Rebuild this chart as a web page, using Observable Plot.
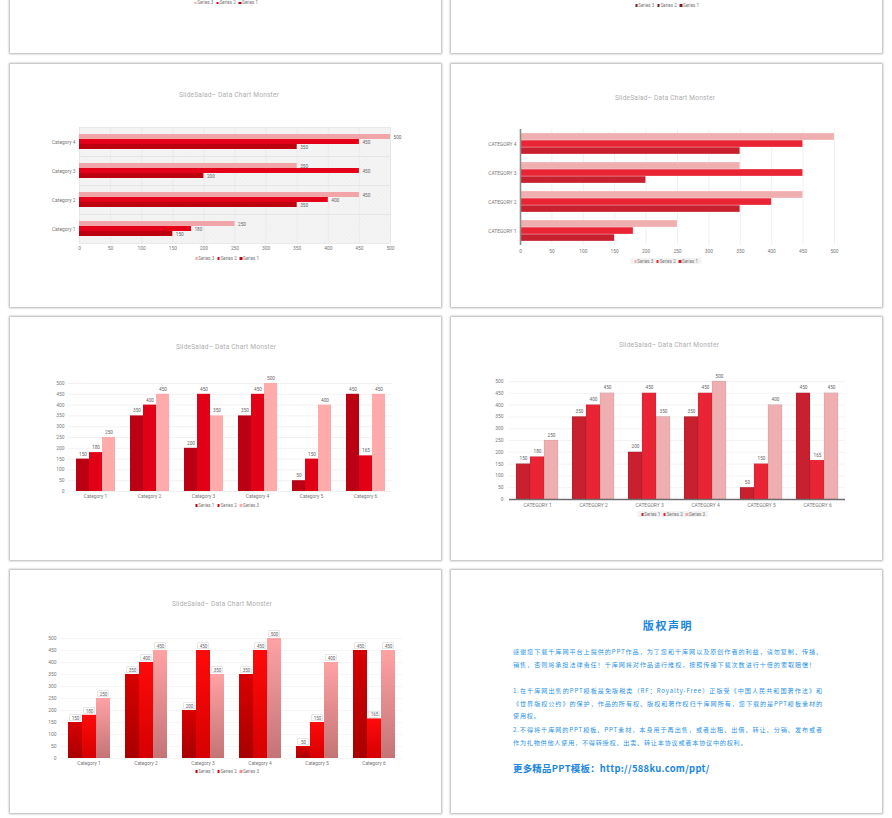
<!DOCTYPE html>
<html><head><meta charset="utf-8">
<script src="https://cdn.jsdelivr.net/npm/d3@7"></script>
<script src="https://cdn.jsdelivr.net/npm/@observablehq/plot@0.6"></script>
<style>
html,body{margin:0;padding:0;background:#fff;}
#page{position:relative;width:892px;height:818px;overflow:hidden;background:#fff;font-family:Roboto,"DejaVu Sans",sans-serif;}
.slide{position:absolute;background:#fff;box-shadow:0 0 2px 1px rgba(0,0,0,0.3);}
.chart{position:absolute;}
.chart svg{display:block;overflow:visible;}
.title{position:absolute;transform:translate(-50%,-50%);white-space:nowrap;font-size:6.6px;color:#aeaeae;letter-spacing:0.2px;line-height:8px;}
.legend{position:absolute;transform:translate(-50%,-50%);white-space:nowrap;font-size:4.5px;color:#777;line-height:5px;padding:0.5px 2px;}
.legend .sw{display:inline-block;width:2.5px;height:2.5px;margin-right:0.8px;vertical-align:middle;}
.legend .it{margin:0 1.5px;}
.cr{position:absolute;color:#2a93e6;font-family:"Noto Sans CJK SC",sans-serif;white-space:nowrap;}
.crl{font-size:6.1px;letter-spacing:0.8px;line-height:8px;width:310px;}
.just{text-align:justify;text-align-last:justify;}
</style></head><body><div id="page"></div>
<script>
// ---------- data ----------
const categories = ["Category 1","Category 2","Category 3","Category 4","Category 5","Category 6"];
const seriesNames = ["Series 1","Series 2","Series 3"];
const series1 = [150,350,200,350,50,450];
const series2 = [180,400,450,450,150,165];
const series3 = [250,450,350,500,400,450];
const valueTicks = [0,50,100,150,200,250,300,350,400,450,500];
const barCategories = categories.slice(0,4);
const chartTitle = "SlideSalad– Data Chart Monster";
const copyrightTitle = "版权声明";
const copyrightLines = [
  "感谢您下载千库网平台上提供的PPT作品，为了您和千库网以及原创作者的利益，请勿复制、传播、",
  "销售，否则将承担法律责任！千库网将对作品进行维权，按照传播下载次数进行十倍的索取赔偿！",
  "1.在千库网出售的PPT模板是免版税类（RF：Royalty-Free）正版受《中国人民共和国著作法》和",
  "《世界版权公约》的保护，作品的所有权、版权和著作权归千库网所有，您下载的是PPT模板素材的",
  "使用权。",
  "2.不得将千库网的PPT模板、PPT素材，本身用于再出售，或者出租、出借、转让、分销、发布或者",
  "作为礼物供他人使用，不得转授权、出卖、转让本协议或者本协议中的权利。"
];
const copyrightFooter = "更多精品PPT模板：http://588ku.com/ppt/";

// ---------- palettes ----------
const palRed = ["#bd0010","#e50019","#f2a5a8"];
const palCrimson = ["#c8202e","#e92535","#efaeb0"];
const palVivid = ["#ba0012","#e10016","#ffaaab"];
const palGrad = ["url(#gS1)","url(#gS2)","url(#gS3)"];
const palDark = ["#7a1a1a","#7a1a1a","#7a1a1a"];

const seriesValues = [series1, series2, series3];
const rows6 = categories.flatMap((c,i)=>seriesNames.map((s,j)=>({category:c, series:s, value:seriesValues[j][i]})));
const rows4 = rows6.filter(d=>barCategories.includes(d.category));

const page = document.getElementById("page");

// defs (hatch + gradients)
page.insertAdjacentHTML("beforeend", `<svg width="0" height="0" style="position:absolute"><defs>
<pattern id="hatchA" patternUnits="userSpaceOnUse" width="3" height="3" patternTransform="rotate(45)"><rect width="3" height="3" fill="#f4f4f4"/><line x1="0" y1="0" x2="0" y2="3" stroke="#ececec" stroke-width="0.8"/></pattern>
<linearGradient id="gS1" x1="0" y1="0" x2="0" y2="1"><stop offset="0" stop-color="#d80000"/><stop offset="1" stop-color="#a80000"/></linearGradient>
<linearGradient id="gS2" x1="0" y1="0" x2="0" y2="1"><stop offset="0" stop-color="#ff0a0a"/><stop offset="1" stop-color="#d60000"/></linearGradient>
<linearGradient id="gS3" x1="0" y1="0" x2="0" y2="1"><stop offset="0" stop-color="#ffa2a4"/><stop offset="1" stop-color="#c47476"/></linearGradient>
</defs></svg>`);

// slides
const slides = [[10,-190],[451,-190],[10,64],[451,64],[10,317],[451,317],[10,570],[451,570]];
for (const [x,y] of slides) {
  const d = document.createElement("div");
  d.className = "slide";
  Object.assign(d.style,{left:x+"px",top:y+"px",width:"431px",height:"243px"});
  page.appendChild(d);
}

function place(svg, left, top, w) {
  const d = document.createElement("div");
  d.className = "chart";
  Object.assign(d.style,{left:left+"px",top:top+"px",width:w+"px"});
  d.appendChild(svg);
  page.appendChild(d);
}
function title(text, cx, cy) {
  const d = document.createElement("div");
  d.className = "title"; d.textContent = text;
  Object.assign(d.style,{left:cx+"px",top:cy+"px"});
  page.appendChild(d);
}
function legend(names, colors, cx, cy, bg) {
  const d = document.createElement("div");
  d.className = "legend";
  Object.assign(d.style,{left:cx+"px",top:cy+"px"});
  if (bg) d.style.background = bg;
  names.forEach((n,i)=>{
    const it = document.createElement("span"); it.className="it";
    const sw = document.createElement("span"); sw.className="sw"; sw.style.background = colors[i];
    it.appendChild(sw); it.appendChild(document.createTextNode(n));
    d.appendChild(it);
  });
  page.appendChild(d);
}
const rev = a => [...a].reverse();
const baseStyle = {background:"transparent", fontFamily:"Roboto, sans-serif", fontSize:"4.9px", color:"#777", overflow:"visible"};

// top row (cut off) legends
legend(rev(seriesNames), rev(palRed), 226, 2.5);
legend(rev(seriesNames), palDark, 667, 5);

// ---------- Chart A: horizontal grouped bars, hatched background ----------
title(chartTitle, 229, 95);
place(Plot.plot({
  width:370, height:140, marginLeft:39, marginRight:20, marginTop:7, marginBottom:14,
  style:baseStyle,
  facet:{data:rows4, y:"category"},
  fy:{domain:rev(barCategories), padding:0, axis:"left", tickSize:0, tickPadding:4, label:null},
  y:{domain:rev(seriesNames), paddingInner:0, paddingOuter:1.27, axis:null},
  x:{domain:[0,500], ticks:valueTicks, tickSize:0, tickPadding:3, label:null},
  color:{domain:seriesNames, range:palRed},
  marks:[
    Plot.frame({fill:"url(#hatchA)", stroke:"#e0e0e0", strokeWidth:0.6}),
    Plot.ruleX(valueTicks, {stroke:"#e2e2e2", strokeWidth:0.5}),
    Plot.barX(rows4, {x:"value", y:"series", fill:"series"}),
    Plot.text(rows4, {x:"value", y:"series", text:"value", textAnchor:"start", dx:3, fill:"#666", fontSize:4.7})
  ]
}), 40, 118, 370);
legend(rev(seriesNames), rev(palRed), 227, 258);

// ---------- Chart B: horizontal grouped bars, uppercase ----------
title(chartTitle, 665, 98);
place(Plot.plot({
  width:380, height:140, marginLeft:40, marginRight:26, marginTop:7, marginBottom:14,
  style:baseStyle,
  facet:{data:rows4, y:"category"},
  fy:{domain:rev(barCategories), padding:0, axis:"left", tickSize:0, tickPadding:4, label:null, tickFormat:d=>d.toUpperCase()},
  y:{domain:rev(seriesNames), paddingInner:0, paddingOuter:0.32, axis:null},
  x:{domain:[0,500], ticks:valueTicks, tickSize:0, tickPadding:4, label:null},
  color:{domain:seriesNames, range:palCrimson},
  marks:[
    Plot.ruleX(valueTicks.slice(1), {stroke:"#e4e4e4", strokeWidth:0.6}),
    Plot.barX(rows4, {x:"value", y:"series", fill:"series", stroke:"#fff", strokeOpacity:0.55, strokeWidth:0.5}),
    Plot.ruleX([0], {stroke:"#8c8c8c", strokeWidth:1.6})
  ]
}), 480, 120, 380);
legend(rev(seriesNames), rev(palCrimson), 666, 261, "#f3f3f3");

// ---------- Chart C: vertical grouped bars ----------
title(chartTitle, 226, 347);
place(Plot.plot({
  width:370, height:130, marginLeft:26, marginRight:16, marginTop:8, marginBottom:14,
  style:baseStyle,
  facet:{data:rows6, x:"category"},
  fx:{domain:categories, padding:0, axis:"bottom", tickSize:0, tickPadding:3, label:null},
  x:{domain:seriesNames, paddingInner:0, paddingOuter:0.5, axis:null},
  y:{domain:[0,500], ticks:valueTicks, tickSize:0, tickPadding:4, label:null},
  color:{domain:seriesNames, range:palVivid},
  marks:[
    Plot.ruleY(valueTicks, {stroke:"#e8e8e8", strokeWidth:0.6}),
    Plot.barY(rows6, {x:"series", y:"value", fill:"series"}),
    Plot.text(rows6, {x:"series", y:"value", text:"value", dy:-5, fill:"#666", fontSize:4.7})
  ]
}), 40, 375, 370);
legend(seriesNames, palVivid, 227, 505);

// ---------- Chart D: vertical grouped bars, uppercase ----------
title(chartTitle, 669, 345);
place(Plot.plot({
  width:400, height:140, marginLeft:38, marginRight:24, marginTop:9, marginBottom:13,
  style:baseStyle,
  facet:{data:rows6, x:"category"},
  fx:{domain:categories, padding:0, axis:"bottom", tickSize:0, tickPadding:4, label:null, tickFormat:d=>d.toUpperCase()},
  x:{domain:seriesNames, paddingInner:0, paddingOuter:0.48, axis:null},
  y:{domain:[0,500], ticks:valueTicks, tickSize:0, tickPadding:6, label:null},
  color:{domain:seriesNames, range:palCrimson},
  marks:[
    Plot.ruleY(valueTicks.slice(1), {stroke:"#ebebeb", strokeWidth:0.6}),
    Plot.barY(rows6, {x:"series", y:"value", fill:"series", stroke:"#000", strokeOpacity:0.12, strokeWidth:0.6}),
    Plot.text(rows6, {x:"series", y:"value", text:"value", dy:-5.5, fill:"#666", fontSize:4.7}),
    Plot.ruleY([0], {stroke:"#6f6f6f", strokeWidth:1.3})
  ]
}), 470, 372, 400);
legend(seriesNames, palCrimson, 673, 514, "#f3f3f3");

// ---------- Chart E: gradient bars with boxed labels ----------
title(chartTitle, 222, 604);
place(Plot.plot({
  width:390, height:145, marginLeft:28, marginRight:17, marginTop:10, marginBottom:15,
  style:baseStyle,
  facet:{data:rows6, x:"category"},
  fx:{domain:categories, padding:0, axis:"bottom", tickSize:0, tickPadding:3, label:null},
  x:{domain:seriesNames, paddingInner:0, paddingOuter:0.5, axis:null},
  y:{domain:[0,500], ticks:valueTicks, tickSize:0, tickPadding:4, label:null},
  color:{domain:seriesNames, range:palGrad},
  marks:[
    Plot.ruleY(valueTicks, {stroke:"#f0f0f0", strokeWidth:0.6}),
    Plot.barY(rows6, {x:"series", y:"value", fill:"series"}),
    Plot.barY(rows6, {x:"series", y1:d=>d.value+5, y2:d=>d.value+30, fill:"#fff", stroke:"#c4c4c4", strokeWidth:0.4, insetLeft:1.8, insetRight:1.8}),
    Plot.text(rows6, {x:"series", y:d=>d.value+17.5, text:"value", fill:"#666", fontSize:4.6})
  ]
}), 30, 628, 390);
legend(seriesNames, ["#c00000","#ee0000","#f08c8e"], 227, 771);

// ---------- Slide F: copyright notice ----------
function cr(text, left, cy, cls, extra) {
  const d = document.createElement("div");
  d.className = "cr " + (cls||"");
  d.textContent = text;
  Object.assign(d.style, {left:left+"px", top:(cy-4)+"px"}, extra||{});
  page.appendChild(d);
  return d;
}
cr(copyrightTitle, 668, 625, "", {fontSize:"11px", fontWeight:"bold", letterSpacing:"1.6px", lineHeight:"12px", transform:"translate(-50%,-2px)", color:"#1a86e0"});
const lineY = [652, 665, 691, 704, 716, 730, 743];
const justified = [true, true, true, true, false, true, false];
copyrightLines.forEach((l,i)=>{
  const d = cr(l, 513, lineY[i], "crl" + (justified[i] ? " just" : ""));
  if (i === 1) d.style.width = "303px";
});
cr(copyrightFooter, 513, 769, "", {fontSize:"9.4px", fontWeight:"bold", lineHeight:"10px", letterSpacing:"0.3px", color:"#1a86e0", top:"763px"});
</script></body></html>
